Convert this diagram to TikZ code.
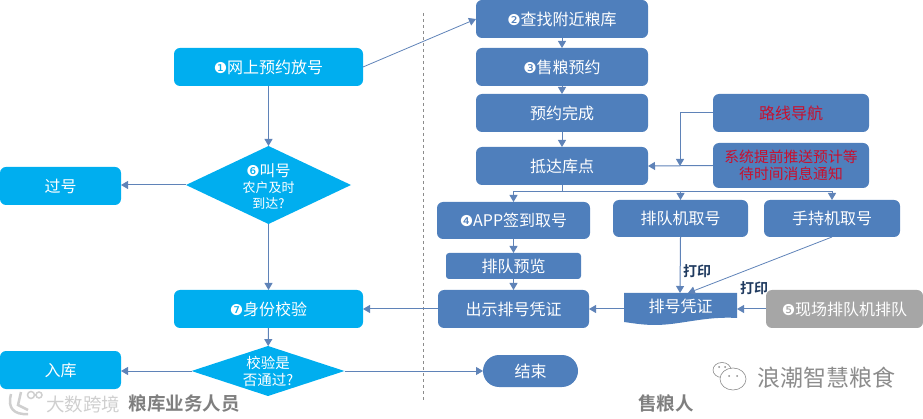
\documentclass[tikz,border=0pt]{standalone}
\usepackage{fontspec}
\setmainfont{Noto Sans CJK SC}[BoldFont={Noto Sans CJK SC Bold}]
\newfontfamily\djsans{DejaVu Sans}
\usetikzlibrary{arrows.meta,shapes.geometric}
\definecolor{boxblue}{HTML}{4F7FBC}
\definecolor{boxcyan}{HTML}{00AEEF}
\definecolor{linkblue}{HTML}{5F83B8}
\definecolor{alertred}{HTML}{C8102E}
\definecolor{boxgray}{HTML}{A6A6A6}
\definecolor{printdark}{HTML}{1F3A5F}
\definecolor{labelgray}{HTML}{7F7F7F}
\definecolor{markgray}{HTML}{CFCFCF}
\newcommand{\cn}[1]{{\djsans\fontsize{15}{15}\selectfont #1}}
\tikzset{
  x=1pt,y=-1pt,
  sized/.style 2 args={minimum width=#1pt,minimum height=#2pt},
  flowbox/.style={rounded corners=6pt,inner sep=0pt,outer sep=0pt,text=white,
    align=center,font=\fontsize{16}{18}\selectfont},
  bluebox/.style={flowbox,fill=boxblue},
  cyanbox/.style={flowbox,fill=boxcyan},
  graybox/.style={flowbox,fill=boxgray},
  redtext/.style={text=alertred},
  decision/.style={diamond,fill=boxcyan,inner sep=0pt,outer sep=0pt},
  decisiontext/.style={text=white,align=center,inner sep=0pt,font=\fontsize{13}{16}\selectfont},
  link/.style={draw=linkblue,line width=1pt,-{Triangle[length=7pt,width=8pt]}},
  thinlink/.style={link,line width=.8pt},
  printlabel/.style={text=printdark,font=\fontsize{14}{16}\bfseries\selectfont,inner sep=0pt},
  rolelabel/.style={text=labelgray,font=\fontsize{18.5}{20}\bfseries\selectfont,inner sep=0pt},
  watermark/.style={text=markgray,inner sep=0pt,font=\fontsize{18.5}{20}\selectfont},
  mark line/.style={draw=black!45,line width=.6pt,fill=white},
}
\begin{document}
\begin{tikzpicture}
\useasboundingbox (0,0) rectangle (923,419);
\draw[dashed,draw=black!45,line width=.6pt] (423,13) -- (423,402);

% right column
\node[bluebox,sized={172}{38}] (find) at (562,19) {\cn{❷}查找附近粮库};
\node[bluebox,sized={172}{38}] (book) at (562,67) {\cn{❸}售粮预约};
\node[bluebox,sized={172}{38}] (done) at (562,113) {预约完成};
\node[bluebox,sized={172}{38}] (arrive) at (562,166) {抵达库点};
\node[bluebox,redtext,sized={156}{38}] (nav) at (791,113) {路线导航};
\node[bluebox,redtext,sized={156}{45},font=\fontsize{14.8}{17}\selectfont] (push) at (791,165.5) {系统提前推送预计等\\待时间消息通知};
\node[bluebox,sized={153}{37}] (app) at (513.5,220.5) {\cn{❹}APP签到取号};
\node[bluebox,sized={135}{37}] (kiosk) at (680.5,218.5) {排队机取号};
\node[bluebox,sized={136}{37}] (hand) at (832,218.5) {手持机取号};
\node[bluebox,rounded corners=3pt,sized={135}{26}] (preview) at (513.5,266) {排队预览};
\node[bluebox,sized={151}{38}] (show) at (513.5,309) {出示排号凭证};
\node[graybox,sized={157}{38}] (onsite) at (844.5,309) {\cn{❺}现场排队机排队};
\node[bluebox,rounded corners=16pt,sized={95}{32}] (end) at (530.5,371) {结束};

% ticket (document shape)
\fill[boxblue] (624,293) -- (737,293) -- (737,318)
  .. controls (705,316) and (680,325) .. (655,325)
  .. controls (642,325) and (632,323) .. (624,322) -- cycle;
\node[inner sep=0pt,outer sep=0pt,text=white,sized={113}{32},font=\fontsize{16}{18}\selectfont,text depth=6pt] (ticket) at (680.5,309) {排号凭证};

% left column
\node[cyanbox,sized={189}{38}] (net) at (268.5,67) {\cn{❶}网上预约放号};
\node[decision,minimum width=165pt,minimum height=78pt,aspect=2.1] (call) at (268.5,185) {};
\node[decisiontext] at (268.5,186) {{\fontsize{15.5}{17}\selectfont\cn{❻}叫号}\\农户及时\\到达?};
\node[cyanbox,sized={121}{38}] (pass) at (60.5,186) {过号};
\node[cyanbox,sized={189}{38}] (verify) at (268.5,309) {\cn{❼}身份校验};
\node[decision,minimum width=153pt,minimum height=50pt,aspect=3] (check) at (268,371) {};
\node[decisiontext,font=\fontsize{14.5}{17}\selectfont] at (268,371) {校验是\\否通过?};
\node[cyanbox,sized={121}{38}] (store) at (60.5,370) {入库};

% connectors
\draw[thinlink] (net.east) -- (find.west);
\draw[link] (find) -- (book);
\draw[link] (book) -- (done);
\draw[link] (done) -- (arrive);
\coordinate (navjoin) at (680,166);
\draw[link] (push.west) -- (arrive.east);
\draw[link] (nav.west) -| (navjoin);
\coordinate (split) at (562,192);
\draw[link] (arrive.south) -- (split) -| (app.north);
\draw[link] (split) -| (kiosk.north);
\draw[link] (split) -| (hand.north);
\draw[link] (app) -- (preview);
\draw[link] (preview) -- (show);
\coordinate (ticketin) at (680,293);
\coordinate (ticketin2) at (688,293);
\draw[link] (kiosk.south) -- (ticketin);
\draw[thinlink] (hand.south) -- (ticketin2);
\draw[link] (onsite.west) -- (ticket.east);
\draw[link] (ticket.west) -- (show.east);
\draw[link] (show.west) -- (verify.east);
\draw[link] (net) -- (call);
\draw[link] (call) -- (verify);
\draw[link] (call.west) -- (call.west -| pass.east);
\draw[link] (verify) -- (check);
\draw[link] (check.west) -- (check.west -| store.east);
\draw[link] (check.east) -- (end.west);

% print labels
\node[printlabel] (print1) at (697,271) {打印};
\node[printlabel] (print2) at (754,288) {打印};

% role labels
\node[rolelabel] (roleA) at (184,403) {粮库业务人员};
\node[rolelabel] (roleB) at (666,403) {售粮人};

% watermarks
\node[watermark] (markA) at (83,404) {大数跨境};
\draw[markgray,line width=2.5pt] (11,394) .. controls (7,408) and (14,415) .. (28,414);
\draw[markgray,line width=1.5pt] (31,395) circle (3.5) (39,395) circle (3);
\draw[markgray,line width=2.5pt] (21,392) -- (18,405) -- (28,410);
\node[text=black!45,inner sep=0pt,font=\fontsize{23}{25}\selectfont] (markB) at (826,378) {浪潮智慧粮食};
\draw[mark line] (722,370) ellipse (9 and 7.5);
\draw[mark line] (733,379) ellipse (13 and 11);
\fill[black!45] (729,376) circle (1) (737,376) circle (1) (719,367) circle (1) (725,367) circle (1);
\end{tikzpicture}
\end{document}
